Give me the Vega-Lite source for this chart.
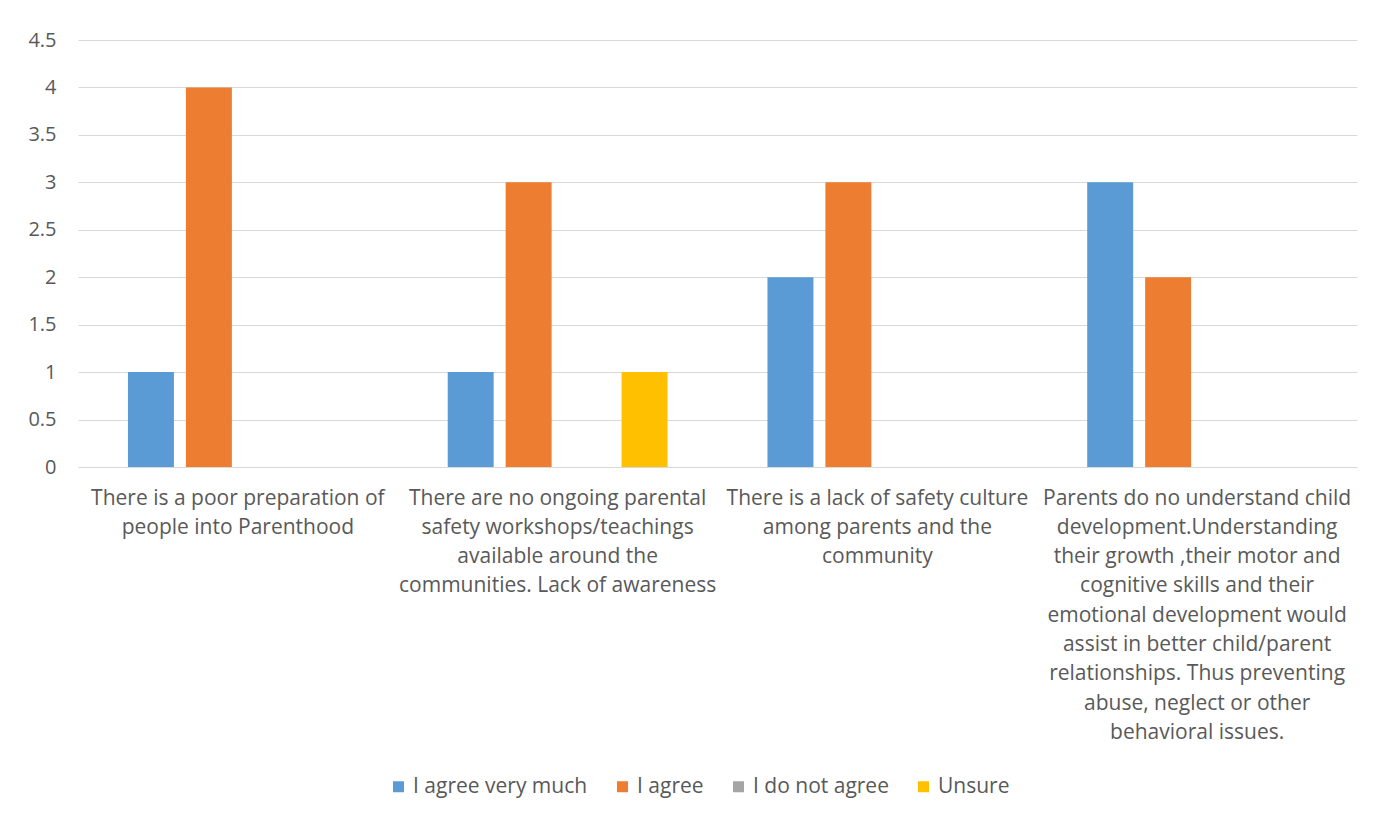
{
  "$schema": "https://vega.github.io/schema/vega-lite/v6.json",
  "width": 1279,
  "height": 427,
  "autosize": {"type": "none"},
  "padding": {"left": 78, "top": 40, "right": 35, "bottom": 349},
  "background": "white",
  "config": {
    "font": "Open Sans",
    "view": {"stroke": null}
  },
  "data": {
    "values": [
      {"category": "There is a poor preparation of people into Parenthood", "response": "I agree very much", "count": 1},
      {"category": "There is a poor preparation of people into Parenthood", "response": "I agree", "count": 4},
      {"category": "There is a poor preparation of people into Parenthood", "response": "I do not agree", "count": 0},
      {"category": "There is a poor preparation of people into Parenthood", "response": "Unsure", "count": 0},
      {"category": "There are no ongoing parental safety workshops/teachings available around the communities. Lack of awareness", "response": "I agree very much", "count": 1},
      {"category": "There are no ongoing parental safety workshops/teachings available around the communities. Lack of awareness", "response": "I agree", "count": 3},
      {"category": "There are no ongoing parental safety workshops/teachings available around the communities. Lack of awareness", "response": "I do not agree", "count": 0},
      {"category": "There are no ongoing parental safety workshops/teachings available around the communities. Lack of awareness", "response": "Unsure", "count": 1},
      {"category": "There is a lack of safety culture among parents and the community", "response": "I agree very much", "count": 2},
      {"category": "There is a lack of safety culture among parents and the community", "response": "I agree", "count": 3},
      {"category": "There is a lack of safety culture among parents and the community", "response": "I do not agree", "count": 0},
      {"category": "There is a lack of safety culture among parents and the community", "response": "Unsure", "count": 0},
      {"category": "Parents do no understand child development.Understanding their growth ,their motor and cognitive skills and their emotional development would assist in better child/parent relationships. Thus preventing abuse, neglect or other behavioral issues.", "response": "I agree very much", "count": 3},
      {"category": "Parents do no understand child development.Understanding their growth ,their motor and cognitive skills and their emotional development would assist in better child/parent relationships. Thus preventing abuse, neglect or other behavioral issues.", "response": "I agree", "count": 2},
      {"category": "Parents do no understand child development.Understanding their growth ,their motor and cognitive skills and their emotional development would assist in better child/parent relationships. Thus preventing abuse, neglect or other behavioral issues.", "response": "I do not agree", "count": 0},
      {"category": "Parents do no understand child development.Understanding their growth ,their motor and cognitive skills and their emotional development would assist in better child/parent relationships. Thus preventing abuse, neglect or other behavioral issues.", "response": "Unsure", "count": 0}
    ]
  },
  "mark": {"type": "bar"},
  "encoding": {
    "x": {
      "field": "category",
      "type": "nominal",
      "sort": null,
      "title": null,
      "scale": {"paddingInner": 0, "paddingOuter": 0},
      "axis": {
        "labelAngle": 0,
        "labelAlign": "center",
        "labelBaseline": "top",
        "labelFontSize": 21,
        "labelColor": "#595959",
        "labelLimit": 400,
        "labelPadding": 20,
        "labelLineHeight": 29.3,
        "ticks": false,
        "domainColor": "#d9d9d9",
        "domainWidth": 1,
        "labelExpr": "indexof(datum.label,'poor')>=0 ? ['There is a poor preparation of','people into Parenthood'] : indexof(datum.label,'ongoing')>=0 ? ['There are no ongoing parental','safety workshops/teachings','available around the','communities. Lack of awareness'] : indexof(datum.label,'safety culture')>=0 ? ['There is a lack of safety culture','among parents and the','community'] : ['Parents do no understand child','development.Understanding','their growth ,their motor and','cognitive skills and their','emotional development would','assist in better child/parent','relationships. Thus preventing','abuse, neglect or other','behavioral issues.']"
      }
    },
    "xOffset": {
      "field": "response",
      "type": "nominal",
      "sort": ["I agree very much", "I agree", "I do not agree", "Unsure"],
      "scale": {"paddingInner": 0.207, "paddingOuter": 0.862}
    },
    "y": {
      "field": "count",
      "type": "quantitative",
      "title": null,
      "scale": {"domain": [0, 4.5], "nice": false},
      "axis": {
        "values": [0, 0.5, 1, 1.5, 2, 2.5, 3, 3.5, 4, 4.5],
        "format": "~g",
        "labelFontSize": 20,
        "labelColor": "#595959",
        "labelPadding": 22,
        "ticks": false,
        "domain": false,
        "gridColor": "#d9d9d9",
        "gridWidth": 1
      }
    },
    "color": {
      "field": "response",
      "type": "nominal",
      "title": null,
      "scale": {
        "domain": ["I agree very much", "I agree", "I do not agree", "Unsure"],
        "range": ["#5B9BD5", "#ED7D31", "#A5A5A5", "#FFC000"]
      },
      "legend": {
        "orient": "none",
        "legendX": 310,
        "legendY": 736,
        "direction": "horizontal",
        "symbolType": "square",
        "symbolSize": 121,
        "symbolStrokeWidth": 0,
        "labelFontSize": 21,
        "labelColor": "#595959",
        "labelOffset": 4,
        "columnPadding": 24,
        "labelLimit": 300
      }
    }
  }
}
